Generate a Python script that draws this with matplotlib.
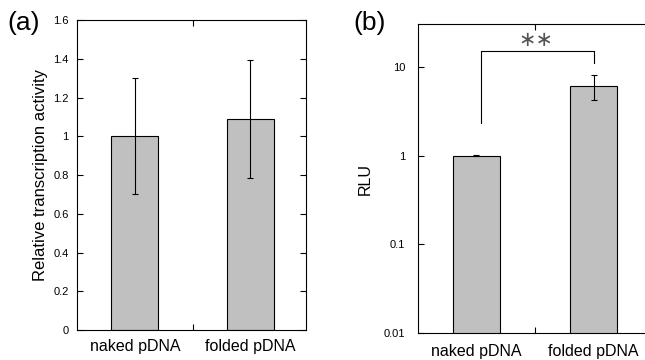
"""
Two-panel bar chart: transcription activity (a) and RLU on log scale (b)
for naked vs folded pDNA.
"""

import numpy as np
import matplotlib.pyplot as plt
from matplotlib.ticker import FixedLocator, NullLocator

plt.rcParams['font.family'] = ['Liberation Sans', 'DejaVu Sans']

# data
categories = ["naked pDNA", "folded pDNA"]

act_mean = [1.0, 1.09]
act_low = [0.70, 0.785]          # bottom of error bar
act_high = [1.30, 1.395]         # top of error bar

rlu_mean = [1.0, 6.15]
rlu_low = [0.98, 4.3]
rlu_high = [1.02, 8.1]

a_ticks = [0, 0.2, 0.4, 0.6, 0.8, 1.0, 1.2, 1.4, 1.6]
a_ticklabels = ["0", "0.2", "0.4", "0.6", "0.8", "1", "1.2", "1.4", "1.6"]
b_ticks = [0.01, 0.1, 1, 10]
b_ticklabels = ["0.01", "0.1", "1", "10"]

# significance bracket (b): left leg bottom, bracket top, right leg bottom
sig_left_bottom = 2.36
sig_top = 15.0
sig_right_bottom = 11.0

bar_color = "#c0c0c0"


def style_axis(ax, pad):
    """inward ticks on both sides, one centre tick on top and bottom"""
    ax.tick_params(axis="y", direction="in", left=True, right=True,
                   length=4, width=0.8, labelsize=8, pad=pad)
    ax.tick_params(axis="x", direction="in", top=True, bottom=True,
                   length=4, width=0.8)
    ax.xaxis.set_major_locator(FixedLocator([0.5]))
    ax.set_xticklabels([""])
    for s in ax.spines.values():
        s.set_linewidth(0.8)


def draw_bars(ax, means, low, high, label_off):
    x = np.arange(len(means))
    yerr = [np.array(means) - np.array(low), np.array(high) - np.array(means)]
    ax.bar(x, means, width=0.405, color=bar_color, edgecolor="black",
           linewidth=0.8, zorder=2)
    ax.errorbar(x, means, yerr=yerr, fmt="none", ecolor="black",
                elinewidth=0.8, capsize=2.5, capthick=0.8, zorder=3)
    for xi, name in zip(x, categories):
        ax.annotate(name, (xi, 0), xycoords=ax.get_xaxis_transform(),
                    xytext=(0, -label_off), textcoords="offset points",
                    ha="center", va="top", fontsize=11.5)


fig = plt.figure(figsize=(6.45, 3.6), dpi=100)

# panel (a)
ax1 = fig.add_axes([0.1194, 0.0833, 0.355, 0.861])
draw_bars(ax1, act_mean, act_low, act_high, 6.5)
ax1.set_xlim(-0.5, 1.48)
ax1.set_ylim(0, 1.6)
ax1.set_yticks(a_ticks)
ax1.set_yticklabels(a_ticklabels)
style_axis(ax1, 6)
ax1.set_ylabel("Relative transcription activity", fontsize=12)
ax1.yaxis.set_label_coords(-0.127, 0.5)
fig.text(0.012, 0.97, "(a)", fontsize=19, va="top", ha="left")

# panel (b)
ax2 = fig.add_axes([0.648, 0.075, 0.363, 0.858])
draw_bars(ax2, rlu_mean, rlu_low, rlu_high, 8)
ax2.set_yscale("log")
ax2.set_xlim(-0.5, 1.5)
ax2.set_ylim(0.01, 30.5)
ax2.set_yticks(b_ticks)
ax2.set_yticklabels(b_ticklabels)
ax2.yaxis.set_minor_locator(NullLocator())
style_axis(ax2, 9)
ax2.set_ylabel("RLU", fontsize=11.5)
ax2.yaxis.set_label_coords(-0.192, 0.5)

ax2.plot([0.04, 0.04, 1.0, 1.0],
         [sig_left_bottom, sig_top, sig_top, sig_right_bottom],
         color="black", linewidth=0.8, zorder=4)
ax2.text(0.51, 17.5, "\u2217\u2217", ha="center", va="baseline",
         fontsize=15, color="#555555", family="DejaVu Sans")
fig.text(0.548, 0.97, "(b)", fontsize=19, va="top", ha="left")

fig.savefig("out.png", dpi=100)
